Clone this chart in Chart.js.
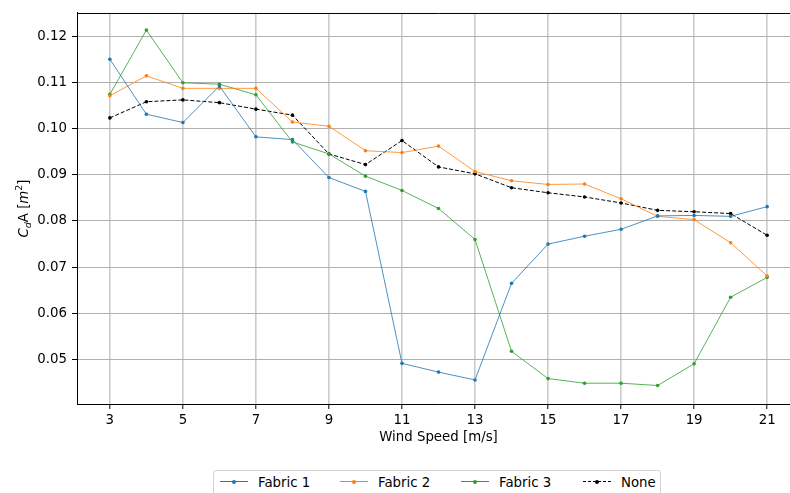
<!DOCTYPE html>
<html>
<head>
<meta charset="utf-8">
<script src="https://cdn.jsdelivr.net/npm/chart.js@4/dist/chart.umd.min.js"></script>
<style>
  html, body { margin: 0; padding: 0; background: #fff; overflow: hidden; }
  #wrap { position: relative; width: 790px; height: 493px; overflow: hidden; }
  #chart { position: absolute; left: 0; top: 0; }
  #legend {
    position: absolute; left: 213px; top: 470px; width: 448px; height: 30px;
    border: 1px solid #d4d4d4; border-radius: 3px; background: #fff;
    font-family: "DejaVu Sans", sans-serif; font-size: 13.33px; color: #000;
    box-sizing: border-box;
  }
  .item { position: absolute; top: 3px; display: flex; align-items: center; height: 16px; }
  .sample { position: relative; width: 28px; height: 2px; margin-right: 10px; }
  .sample .ln { position: absolute; left: 0; right: 0; top: 0; border-top: 1px solid; }
  .sample .dot { position: absolute; left: 12px; top: -1.5px; width: 4px; height: 4px; border-radius: 50%; }
</style>
</head>
<body>
<div id="wrap">
  <canvas id="chart" width="810" height="493"></canvas>
  <div id="legend"></div>
</div>
<script>
// wind tunnel drag area per fabric cover

const speeds = [3, 4, 5, 6, 7, 8, 9, 10, 11, 12, 13, 14, 15, 16, 17, 18, 19, 20, 21];
const xTicks = [3, 5, 7, 9, 11, 13, 15, 17, 19, 21];
const yTicks = [0.05, 0.06, 0.07, 0.08, 0.09, 0.10, 0.11, 0.12];

const fabric1 = [0.1150, 0.1031, 0.1013, 0.1092, 0.0982, 0.0976, 0.0894, 0.0864, 0.0492, 0.0473,
                 0.0456, 0.0665, 0.0750, 0.0767, 0.0782, 0.0811, 0.0812, 0.0810, 0.0831];
const fabric2 = [0.1071, 0.1114, 0.1087, 0.1087, 0.1087, 0.1014, 0.1005, 0.0952, 0.0948, 0.0962,
                 0.0907, 0.0887, 0.0879, 0.0880, 0.0848, 0.0810, 0.0803, 0.0753, 0.0681];
const fabric3 = [0.1074, 0.1213, 0.1099, 0.1096, 0.1073, 0.0971, 0.0945, 0.0897, 0.0866, 0.0827,
                 0.0760, 0.0518, 0.0459, 0.0449, 0.0449, 0.0444, 0.0491, 0.0635, 0.0678];
const noneCover = [0.1023, 0.1058, 0.1062, 0.1056, 0.1042, 0.1029, 0.0945, 0.0922, 0.0974, 0.0917,
                   0.0902, 0.0872, 0.0861, 0.0852, 0.0839, 0.0823, 0.0820, 0.0816, 0.0769];

const FONT = '"DejaVu Sans", sans-serif';

const series = [
    { label: 'Fabric 1', values: fabric1, color: '#1f77b4', line: 'rgba(31,119,180,0.8)', dash: [] },
    { label: 'Fabric 2', values: fabric2, color: '#ff7f0e', line: 'rgba(255,127,14,0.8)', dash: [] },
    { label: 'Fabric 3', values: fabric3, color: '#2ca02c', line: 'rgba(44,160,44,0.8)', dash: [] },
    { label: 'None', values: noneCover, color: '#000000', line: '#000000', dash: [4, 2] }
];

function toPoints(vals) {
    return speeds.map((s, i) => ({ x: s, y: vals[i] }));
}

// axis titles + top spine (mathtext style y label)
const extras = {
    id: 'extras',
    afterDraw(chart) {
        const ctx = chart.ctx;
        const a = chart.chartArea;
        ctx.save();
        ctx.strokeStyle = '#000';
        ctx.lineWidth = 1;
        ctx.beginPath();
        ctx.moveTo(a.left, a.top + 0.5);
        ctx.lineTo(a.right, a.top + 0.5);
        ctx.stroke();

        ctx.fillStyle = '#000';
        ctx.font = '13.33px ' + FONT;
        ctx.textAlign = 'center';
        ctx.textBaseline = 'middle';
        ctx.fillText('Wind Speed [m/s]', (a.left + a.right) / 2, 438);

        // y label: C_d A [m^2]
        const parts = [
            { t: 'C', f: 'italic 13.33px ' + FONT, dy: 0 },
            { t: 'd', f: 'italic 9.5px ' + FONT, dy: 3 },
            { t: 'A [', f: '13.33px ' + FONT, dy: 0 },
            { t: 'm', f: 'italic 13.33px ' + FONT, dy: 0 },
            { t: '2', f: '9.5px ' + FONT, dy: -6 },
            { t: ']', f: '13.33px ' + FONT, dy: 0 }
        ];
        let total = 0;
        parts.forEach(p => { ctx.font = p.f; p.w = ctx.measureText(p.t).width; total += p.w; });
        ctx.translate(24, (a.top + a.bottom) / 2);
        ctx.rotate(-Math.PI / 2);
        ctx.textAlign = 'left';
        ctx.textBaseline = 'alphabetic';
        let x = -total / 2;
        parts.forEach(p => {
            ctx.font = p.f;
            ctx.fillText(p.t, x, 4 + p.dy);
            x += p.w;
        });
        ctx.restore();
    }
};

const ctx = document.getElementById('chart').getContext('2d');
new Chart(ctx, {
    type: 'line',
    data: {
        datasets: series.map(s => ({
            label: s.label,
            data: toPoints(s.values),
            borderColor: s.line,
            backgroundColor: s.color,
            borderWidth: 1,
            borderDash: s.dash,
            pointRadius: 1.8,
            pointBorderWidth: 0,
            pointBackgroundColor: s.color,
            tension: 0,
            fill: false
        }))
    },
    options: {
        responsive: false,
        animation: false,
        events: [],
        layout: { padding: { left: 0, top: 12, right: 10, bottom: 0 } },
        plugins: { legend: { display: false }, tooltip: { enabled: false } },
        scales: {
            x: {
                type: 'linear',
                min: 2.1,
                max: 21.9,
                afterBuildTicks: scale => { scale.ticks = xTicks.map(v => ({ value: v })); },
                afterFit: scale => { scale.height = 89; },
                ticks: {
                    color: '#000',
                    padding: 4,
                    font: { family: FONT, size: 13.33 },
                    callback: v => String(v)
                },
                grid: { color: '#cbcbcb', lineWidth: 1.6, tickColor: '#000', tickLength: 5, tickWidth: 1 },
                border: { color: '#000', width: 1 }
            },
            y: {
                min: 0.0404,
                max: 0.1250,
                afterBuildTicks: scale => { scale.ticks = yTicks.map(v => ({ value: v })); },
                afterFit: scale => { scale.width = 77; },
                ticks: {
                    color: '#000',
                    padding: 5,
                    font: { family: FONT, size: 13.33 },
                    callback: v => v.toFixed(2)
                },
                grid: { color: '#b0b0b0', lineWidth: 1, tickColor: '#000', tickLength: 5, tickWidth: 1 },
                border: { color: '#000', width: 1 }
            }
        }
    },
    plugins: [extras]
});

// legend below the axes
const legend = document.getElementById('legend');
const legendX = [6, 126, 247, 369];
series.forEach((s, i) => {
    const item = document.createElement('div');
    item.className = 'item';
    item.style.left = legendX[i] + 'px';
    item.innerHTML = `
      <span class="sample">
        <span class="ln" style="border-top-color:${s.color};border-top-style:${s.dash.length ? 'dashed' : 'solid'}"></span>
        <span class="dot" style="background:${s.color}"></span>
      </span>
      <span>${s.label}</span>`;
    legend.appendChild(item);
});
</script>
</body>
</html>
